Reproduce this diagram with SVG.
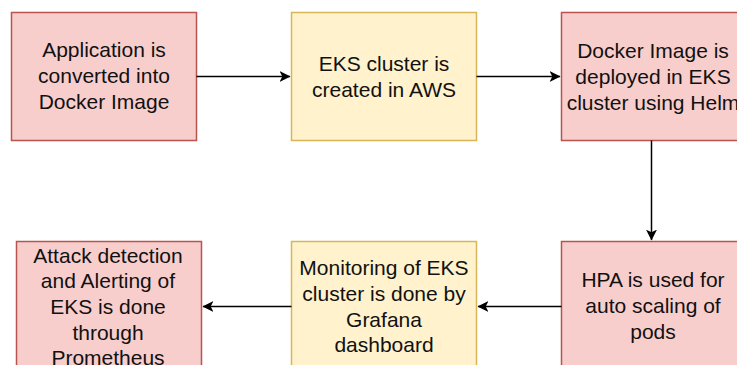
<svg xmlns="http://www.w3.org/2000/svg" width="737" height="365" viewBox="0 0 737 365">
<defs>
<marker id="arr" viewBox="0 0 10 10" refX="9.5" refY="5" markerWidth="11" markerHeight="11" markerUnits="userSpaceOnUse" orient="auto">
<path d="M0,0 L10,5 L0,10 L2.5,5 Z" fill="#000"/>
</marker>
<style>
.pink{fill:#f8cecc;stroke:#b85450;stroke-width:1.5}
.yel{fill:#fff2cc;stroke:#d6b656;stroke-width:1.5}
text{font-family:"Liberation Sans",Arial,sans-serif;font-size:21px;fill:#111;text-anchor:middle}
.c{fill:none;stroke:#000;stroke-width:1.5}
</style>
</defs>
<rect width="737" height="365" fill="#fff"/>
<g id="n1"><rect class="pink" x="11.5" y="12.5" width="185" height="128"/>
<text x="104" y="57">Application is</text><text x="104" y="83">converted into</text><text x="104" y="109">Docker Image</text></g>
<g id="n2"><rect class="yel" x="291.5" y="12.5" width="185" height="128"/>
<text x="384" y="71">EKS cluster is</text><text x="384" y="97">created in AWS</text></g>
<g id="n3"><rect class="pink" x="561.5" y="12.5" width="182" height="128"/>
<text x="653" y="58">Docker Image is</text><text x="653" y="84">deployed in EKS</text><text x="653" y="110">cluster using Helm</text></g>
<g id="n4"><rect class="pink" x="561.5" y="241.5" width="182" height="128"/>
<text x="653" y="287">HPA is used for</text><text x="653" y="313">auto scaling of</text><text x="653" y="339">pods</text></g>
<g id="n5"><rect class="yel" x="291.5" y="241.5" width="185" height="128"/>
<text x="384" y="275">Monitoring of EKS</text><text x="384" y="301">cluster is done by</text><text x="384" y="327">Grafana</text><text x="384" y="352">dashboard</text></g>
<g id="n6"><rect class="pink" x="16.5" y="241.5" width="185" height="128"/>
<text x="108" y="263">Attack detection</text><text x="108" y="288">and Alerting of</text><text x="108" y="314">EKS is done</text><text x="108" y="340">through</text><text x="108" y="365">Prometheus</text></g>
<g id="connectors">
<path class="c" d="M196.5,76.5 H290" marker-end="url(#arr)"/>
<path class="c" d="M476.5,76.5 H560" marker-end="url(#arr)"/>
<path class="c" d="M651.5,140.5 V240" marker-end="url(#arr)"/>
<path class="c" d="M561.5,306.5 H478" marker-end="url(#arr)"/>
<path class="c" d="M291.5,306.5 H203" marker-end="url(#arr)"/>
</g>
</svg>
